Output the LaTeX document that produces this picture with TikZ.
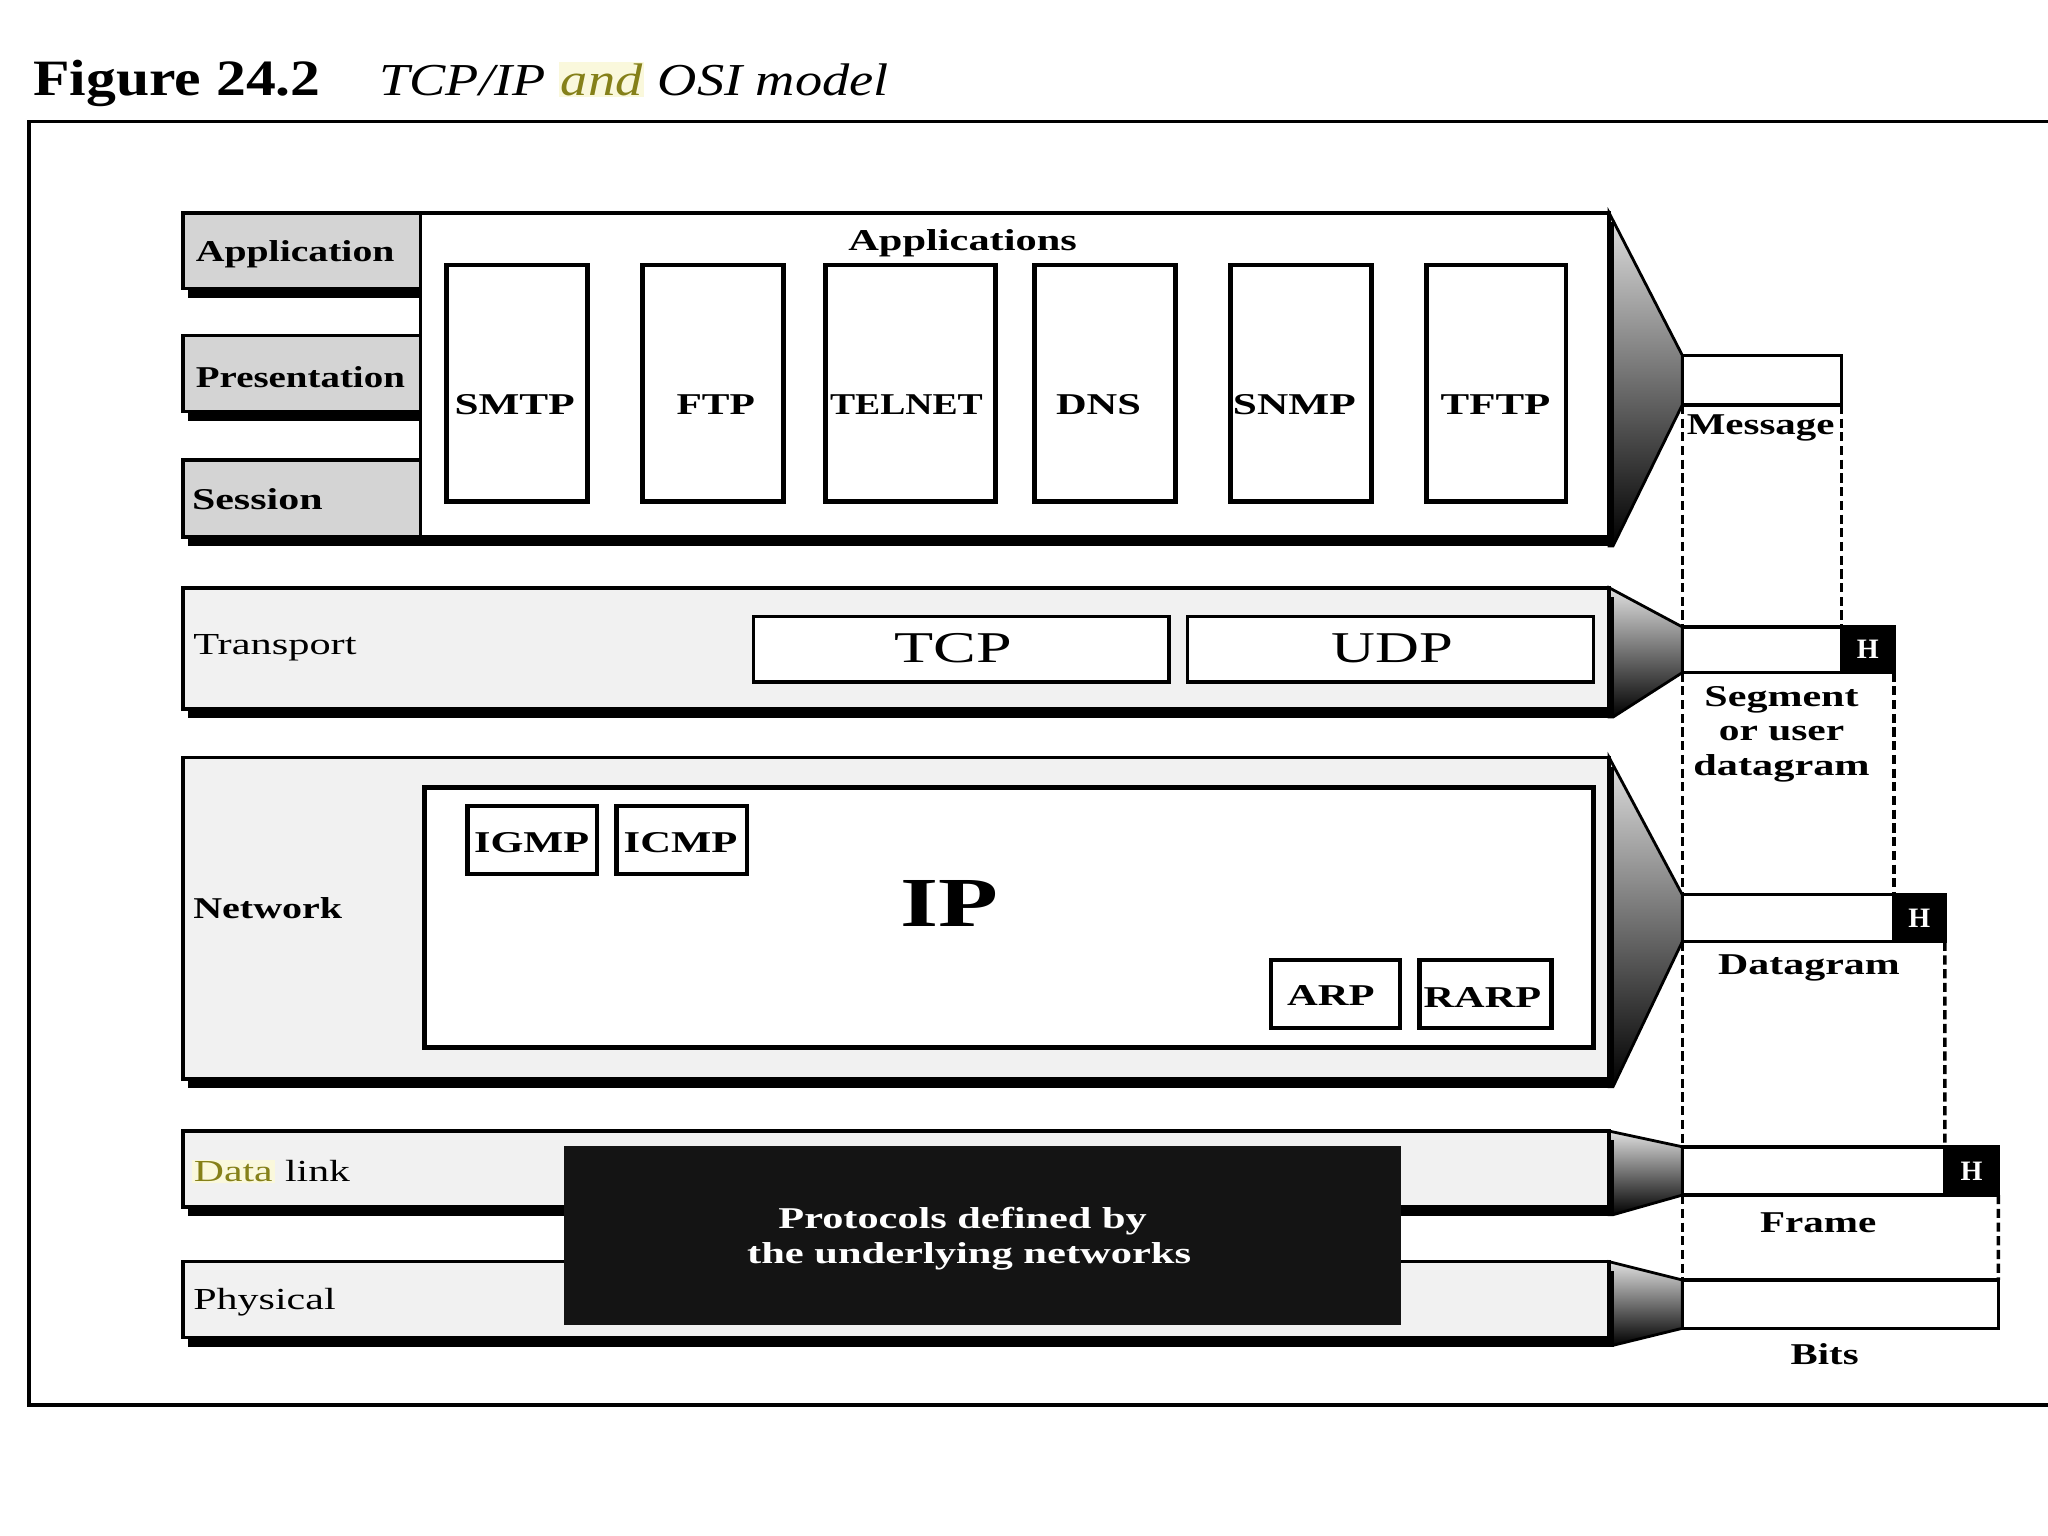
\documentclass[tikz,border=0pt]{standalone}
\usepackage{fontspec}
\setmainfont{Liberation Serif}
\usetikzlibrary{fit,shadows}
\definecolor{labgray}{HTML}{D4D4D4}
\definecolor{laygray}{HTML}{F1F1F1}
\definecolor{olivetxt}{HTML}{858019}
\definecolor{hiyellow}{HTML}{FAF8DC}
\definecolor{nearblack}{HTML}{141414}
\newdimen\sunit \sunit=0.37162pt
\newcommand\fw[2]{\resizebox{#1\sunit}{\height}{#2}}
\newcommand\hili[1]{{\setlength\fboxsep{0.4pt}\colorbox{hiyellow}{\textcolor{olivetxt}{#1}}}}
\tikzset{
 blk/.style={draw=black, line width=1pt, inner sep=0pt, outer sep=0pt},
 shad/.style={drop shadow={shadow xshift=1.5pt, shadow yshift=-2.6pt, fill=black, opacity=1}},
 layerbox/.style={blk, shad, fill=laygray},
 labbox/.style={blk, shad, fill=labgray},
 pbox/.style={blk, line width=1.3pt, fill=white},
 hdr/.style={blk, fill=black},
 pdu/.style={blk, fill=white},
 tapershape/.style={draw=black, line width=0.8pt, top color=black!12, bottom color=black},
 txt/.style={inner sep=0pt, outer sep=0pt, font=\fontsize{8.6}{10}\selectfont\bfseries},
 rtxt/.style={inner sep=0pt, outer sep=0pt, font=\fontsize{8.7}{10}\selectfont},
 htxt/.style={inner sep=0pt, outer sep=0pt, text=white, font=\fontsize{8}{8}\selectfont\bfseries},
 dashln/.style={line width=1pt, dash pattern=on 2.6pt off 1.3pt},
}
\begin{document}
\begin{tikzpicture}[x=0.013061cm, y=-0.013061cm]
\useasboundingbox (0,0) rectangle (1568,1176);
\fill[white] (0,0) rectangle (1568,1176);

% title
\node[anchor=base west, inner sep=0pt, font=\fontsize{14.5}{16}\selectfont\bfseries] (fig) at (25,73) {\fw{220}{Figure 24.2}};
\node[anchor=base west, inner sep=0pt, font=\fontsize{13}{15}\selectfont\itshape] (cap) at (290,73) {\fw{390}{TCP/IP \hili{and} OSI model}};

% outer frame
\draw[line width=1.1pt] (1600,93) -- (22,93) -- (22,1076) -- (1600,1076);

% tapers
\draw[tapershape] (1232,163) -- (1288,272) -- (1288,310) -- (1235,418) -- (1232,418) -- cycle;
\draw[tapershape] (1232,450) -- (1288,480) -- (1288,515) -- (1235,549) -- (1232,549) -- cycle;
\draw[tapershape] (1232,580) -- (1288,685) -- (1288,721) -- (1235,832) -- (1232,832) -- cycle;
\draw[tapershape] (1232,866) -- (1288,878) -- (1288,915) -- (1235,930) -- (1232,930) -- cycle;
\draw[tapershape] (1232,966) -- (1288,980) -- (1288,1017) -- (1235,1030) -- (1232,1030) -- cycle;

% top block: application / presentation / session
\node[labbox, fit={(140,163) (322,221)}] (applbox) {};
\node[labbox, fit={(140,257) (322,315)}] (presbox) {};
\node[labbox, fit={(140,352) (322,411)}] (sessbox) {};
\node[layerbox, fill=white, fit={(322,163) (1232,411)}] (appblk) {};
\node[txt, anchor=west] (applt) at (150,195) {\fw{152}{Application}};
\node[txt, anchor=west] (prest) at (150,289) {\fw{160}{Presentation}};
\node[txt, anchor=west] (sesst) at (147,382) {\fw{100}{Session}};
\node[txt] (appst) at (737,186) {\fw{175}{Applications}};

\node[pbox, fit={(342,203) (450,384)}] (smtp) {};
\node[pbox, fit={(492,203) (600,384)}] (ftp) {};
\node[pbox, fit={(632,203) (762,384)}] (telnet) {};
\node[pbox, fit={(792,203) (900,384)}] (dns) {};
\node[pbox, fit={(942,203) (1050,384)}] (snmp) {};
\node[pbox, fit={(1092,203) (1199,384)}] (tftp) {};
\node[txt] (smtpt) at (394,310) {\fw{92}{SMTP}};
\node[txt] (ftpt) at (548,310) {\fw{60}{FTP}};
\node[txt] (telnett) at (694,310) {\fw{117}{TELNET}};
\node[txt] (dnst) at (841,310) {\fw{65}{DNS}};
\node[txt] (snmpt) at (991,310) {\fw{94}{SNMP}};
\node[txt] (tftpt) at (1145,310) {\fw{84}{TFTP}};

% transport
\node[layerbox, fit={(140,450) (1232,543)}] (transblk) {};
\node[rtxt, anchor=west] (transt) at (148,496) {\fw{125}{Transport}};
\node[blk, fill=white, fit={(577,472) (895,522)}] (tcp) {};
\node[blk, fill=white, fit={(909,472) (1220,522)}] (udp) {};
\node[inner sep=0pt, font=\fontsize{12.5}{14}\selectfont] (tcpt) at (730,496) {\fw{90}{TCP}};
\node[inner sep=0pt, font=\fontsize{12.5}{14}\selectfont] (udpt) at (1066,496) {\fw{93}{UDP}};

% network
\node[layerbox, fit={(140,580) (1232,826)}] (netblk) {};
\node[txt, anchor=west] (nett) at (148,695) {\fw{114}{Network}};
\node[pbox, fit={(325,603) (1220,802)}] (ip) {};
\node[pbox, fit={(358,617) (457,669)}] (igmp) {};
\node[pbox, fit={(472,617) (572,669)}] (icmp) {};
\node[pbox, fit={(973,735) (1072,787)}] (arp) {};
\node[pbox, fit={(1087,735) (1188,787)}] (rarp) {};
\node[txt] (igmpt) at (407,645) {\fw{88}{IGMP}};
\node[txt] (icmpt) at (521,645) {\fw{87}{ICMP}};
\node[txt] (arpt) at (1019,762) {\fw{67}{ARP}};
\node[txt] (rarpt) at (1135,764) {\fw{90}{RARP}};
\node[inner sep=0pt, font=\fontsize{20}{22}\selectfont\bfseries] (ipt) at (727,692) {\fw{75}{IP}};

% data link and physical
\node[layerbox, fit={(140,866) (1232,924)}] (dlblk) {};
\node[layerbox, fit={(140,966) (1232,1024)}] (phblk) {};
\node[rtxt, anchor=west] (dlt) at (147,897) {\fw{121}{\hili{Data} link}};
\node[rtxt, anchor=west] (pht) at (148,997) {\fw{109}{Physical}};
\node[blk, draw=nearblack, fill=nearblack, fit={(433,879) (1071,1013)}] (under) {};
\node[txt, text=white] (undt1) at (737,935) {\fw{282}{Protocols defined by}};
\node[txt, text=white] (undt2) at (742,962) {\fw{340}{the underlying networks}};

% PDU boxes
\node[pdu, fit={(1288,272) (1410,310)}] (msg) {};
\node[pdu, fit={(1288,480) (1410,515)}] (seg) {};
\node[hdr, fit={(1410,480) (1450,515)}] (segH) {};
\node[pdu, fit={(1288,685) (1450,721)}] (dg) {};
\node[hdr, fit={(1450,685) (1489,721)}] (dgH) {};
\node[pdu, fit={(1288,878) (1489,915)}] (fr) {};
\node[hdr, fit={(1489,878) (1530,915)}] (frH) {};
\node[pdu, fit={(1288,980) (1530,1017)}] (bits) {};
\node[htxt] (segHt) at (segH.center) {H};
\node[htxt] (dgHt) at (dgH.center) {H};
\node[htxt] (frHt) at (frH.center) {H};

\node[txt] (msgt) at (1348,328) {\fw{113}{Message}};
\node[txt, align=center, font=\fontsize{8.6}{9.8}\selectfont\bfseries] (segt) at (1364,562) {\fw{118}{Segment}\\\fw{96}{or user}\\\fw{135}{datagram}};
\node[txt] (dgt) at (1385,741) {\fw{139}{Datagram}};
\node[txt] (frt) at (1392,936) {\fw{89}{Frame}};
\node[txt] (bitst) at (1397,1037) {\fw{52}{Bits}};

% dashed connectors
\draw[dashln] (msg.south west) -- (seg.north west);
\draw[dashln] (seg.south west) -- (dg.north west);
\draw[dashln] (dg.south west) -- (fr.north west);
\draw[dashln] (fr.south west) -- (bits.north west);
\draw[dashln] (msg.south east) -- (segH.north west);
\draw[dashln] (segH.south east) -- (dgH.north west);
\draw[dashln] (dgH.south east) -- (frH.north west);
\draw[dashln] (frH.south east) -- (bits.north east);
\end{tikzpicture}
\end{document}
